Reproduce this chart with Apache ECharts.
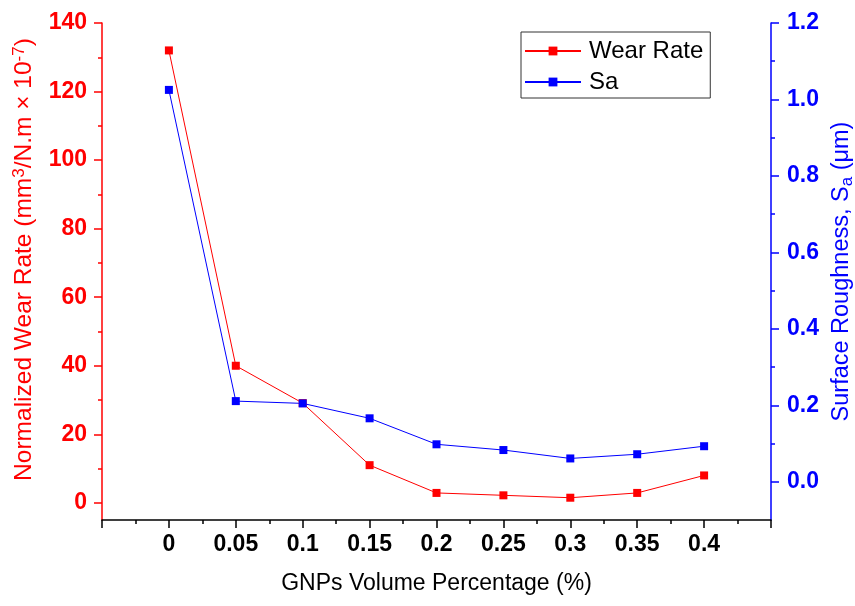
<!DOCTYPE html>
<html>
<head>
<meta charset="utf-8">
<script src="https://cdn.jsdelivr.net/npm/echarts@6/dist/echarts.min.js"></script>
<style>html,body{margin:0;padding:0;background:#fff}#c{width:855px;height:606px}</style>
</head>
<body>
<div id="c"></div>
<script>
const xValues = [0, 0.05, 0.1, 0.15, 0.2, 0.25, 0.3, 0.35, 0.4];
const wearRate = [132, 40, 29.1, 11.0, 2.9, 2.2, 1.5, 2.9, 8.0];
const sa = [1.025, 0.211, 0.205, 0.166, 0.098, 0.083, 0.061, 0.072, 0.093];
const leftMajor = [0, 20, 40, 60, 80, 100, 120, 140];
const leftMinor = [10, 30, 50, 70, 90, 110, 130];
const rightMajor = [0, 0.2, 0.4, 0.6, 0.8, 1.0, 1.2];
const rightMinor = [0.1, 0.3, 0.5, 0.7, 0.9, 1.1];

const FONT = 'Arial, "Liberation Sans", sans-serif';
const RED = '#ff0000', BLUE = '#0000ff';
const chart = echarts.init(document.getElementById('c'));
const pairs = (ys) => xValues.map((x, i) => [x, ys[i]]);

chart.setOption({
  animation: false,
  backgroundColor: '#fff',
  grid: { left: 102, right: 84, top: 23, bottom: 86, containLabel: false, outerBoundsMode: 'none' },
  legend: {
    orient: 'vertical', left: 521, top: 32,
    padding: [7, 7, 4, 3],
    itemWidth: 56, itemHeight: 11, itemGap: 7,
    borderColor: '#333', borderWidth: 1,
    textStyle: { fontFamily: FONT, fontSize: 24, color: '#000', padding: [0, 0, 0, 3] },
    data: ['Wear Rate', 'Sa']
  },
  xAxis: {
    type: 'value', min: -0.05, max: 0.45, interval: 0.05,
    name: 'GNPs Volume Percentage (%)', nameLocation: 'middle', nameGap: 52,
    nameTextStyle: { fontFamily: FONT, fontSize: 23, color: '#000' },
    axisLine: { onZero: false, lineStyle: { color: '#000', width: 1.5 } },
    axisTick: { show: true, length: 8, lineStyle: { color: '#000', width: 1.5 } },
    minorTick: { show: true, splitNumber: 2, length: 4, lineStyle: { color: '#000', width: 1.5 } },
    axisLabel: {
      margin: 13, fontFamily: FONT, fontSize: 23, fontWeight: 'bold', color: '#000',
      showMinLabel: true, showMaxLabel: true,
      formatter: v => (v < -0.001 || v > 0.401) ? '' : String(+v.toFixed(2))
    },
    splitLine: { show: false }, minorSplitLine: { show: false }
  },
  yAxis: [
    {
      type: 'value', position: 'left', min: -5, max: 140,
      name: '{t|Normalized Wear Rate (mm}{s|3}{t|/N.m × 10}{s|-7}{t|)}',
      nameLocation: 'middle', nameGap: 64, nameRotate: 90,
      nameTextStyle: {
        color: RED, padding: [0, 0, 0, 24],
        rich: {
          t: { fontFamily: FONT, fontSize: 24.5, color: RED },
          s: { fontFamily: FONT, fontSize: 17, color: RED, verticalAlign: 'bottom', padding: [0, 0, 10, 0] }
        }
      },
      axisLine: { show: true, onZero: false, lineStyle: { color: RED, width: 1.5 } },
      axisTick: { show: true, length: 8, customValues: leftMajor, lineStyle: { color: RED, width: 1.5 } },
      axisLabel: { margin: 15, customValues: leftMajor, fontFamily: FONT, fontSize: 23, fontWeight: 'bold', color: RED },
      splitLine: { show: false }
    },
    {
      type: 'value', position: 'right', min: -0.1, max: 1.2,
      name: '{t|Surface Roughness, S}{b|a}{t| (μm)}',
      nameLocation: 'middle', nameGap: 57, nameRotate: 90,
      nameTextStyle: {
        color: BLUE,
        rich: {
          t: { fontFamily: FONT, fontSize: 23.5, color: BLUE },
          b: { fontFamily: FONT, fontSize: 17, color: BLUE, verticalAlign: 'top', padding: [10, 0, 0, 0] }
        }
      },
      axisLine: { show: true, onZero: false, lineStyle: { color: BLUE, width: 1.5 } },
      axisTick: { show: true, length: 8, customValues: rightMajor, lineStyle: { color: BLUE, width: 1.5 } },
      axisLabel: { margin: 16, customValues: rightMajor, fontFamily: FONT, fontSize: 23, fontWeight: 'bold', color: BLUE,
        formatter: v => v.toFixed(1) },
      splitLine: { show: false }
    },
    {
      type: 'value', position: 'left', min: -5, max: 140,
      axisLine: { show: false, onZero: false },
      axisTick: { show: true, length: 4, customValues: leftMinor, lineStyle: { color: RED, width: 1.5 } },
      axisLabel: { show: false }, splitLine: { show: false }
    },
    {
      type: 'value', position: 'right', min: -0.1, max: 1.2,
      axisLine: { show: false, onZero: false },
      axisTick: { show: true, length: 4, customValues: rightMinor, lineStyle: { color: BLUE, width: 1.5 } },
      axisLabel: { show: false }, splitLine: { show: false }
    }
  ],
  series: [
    {
      name: 'Wear Rate', type: 'line', yAxisIndex: 0, data: pairs(wearRate),
      symbol: 'rect', symbolSize: 8, showAllSymbol: true,
      itemStyle: { color: RED }, lineStyle: { color: RED, width: 1 }
    },
    {
      name: 'Sa', type: 'line', yAxisIndex: 1, data: pairs(sa),
      symbol: 'rect', symbolSize: 8, showAllSymbol: true,
      itemStyle: { color: BLUE }, lineStyle: { color: BLUE, width: 1 }
    }
  ]
});
</script>
</body>
</html>
